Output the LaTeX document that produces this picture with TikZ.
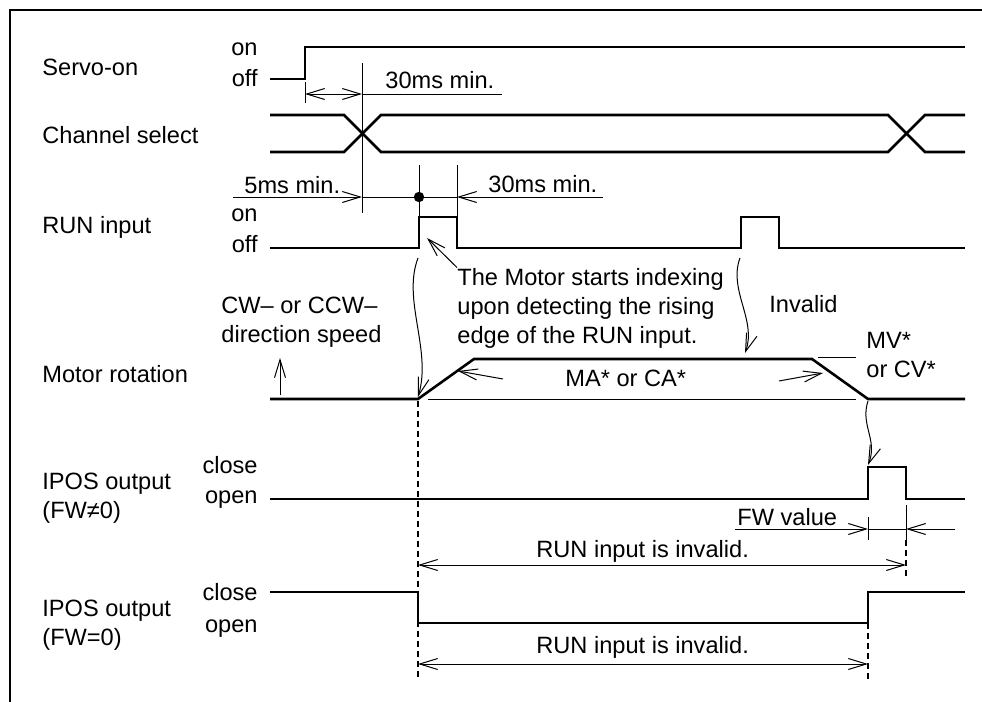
\documentclass[tikz,border=0pt]{standalone}
\usepackage{fontspec}
\setmainfont{Liberation Sans}
\usetikzlibrary{arrows.meta}
\begin{document}
\begin{tikzpicture}[x=0.5pt,y=-0.5pt,>={Straight Barb[length=9pt,width=5.5pt]},
  font=\fontsize{11.8}{14.5}\selectfont]
\tikzstyle{sig}=[line width=1.3pt]
\tikzstyle{dim}=[line width=0.5pt]
\tikzstyle{guide}=[line width=0.6pt,dash pattern=on 3pt off 2pt]
\tikzstyle{lbl}=[inner sep=0pt,anchor=base west,align=left]
\tikzstyle{lvl}=[inner sep=0pt,anchor=base east]

\useasboundingbox (0,0) rectangle (982,702);
\draw[line width=1.4pt] (10,702) -- (10,10) -- (982,10);

% Signal names and levels
\node[lbl] (servo) at (42,75) {Servo-on};
\node[lvl] (servoon) at (258,55) {on};
\node[lvl] (servooff) at (258,86) {off};
\node[lbl] (chsel) at (42,143) {Channel select};
\node[lbl] (run) at (42,233) {RUN input};
\node[lvl] (runon) at (258,221) {on};
\node[lvl] (runoff) at (258,252) {off};
\node[lbl] (motor) at (42,382) {Motor rotation};
\node[lbl] (ipos1) at (42,518) {IPOS output\\(FW≠0)};
\node[lvl] (close1) at (258,473) {close};
\node[lvl] (open1) at (258,503) {open};
\node[lbl] (ipos2) at (42,645) {IPOS output\\(FW=0)};
\node[lvl] (close2) at (258,600) {close};
\node[lvl] (open2) at (258,632) {open};

% Waveforms
\draw[sig] (270,79) -- (305,79) -- (305,47) -- (965,47);
\draw[sig] (270,115) -- (344,115) -- (381,152) -- (888,152) -- (925,115) -- (965,115);
\draw[sig] (270,152) -- (344,152) -- (381,115) -- (888,115) -- (925,152) -- (965,152);
\draw[sig] (270,248) -- (419,248) -- (419,217) -- (457,217) -- (457,248)
  -- (741,248) -- (741,217) -- (779,217) -- (779,248) -- (965,248);
\draw[sig] (270,399) -- (418,399) -- (474,359) -- (812,359) -- (868,399) -- (965,399);
\draw[sig] (270,499) -- (868,499) -- (868,467) -- (906,467) -- (906,499) -- (965,499);
\draw[sig] (270,592) -- (418,592) -- (418,623) -- (868,623) -- (868,592) -- (965,592);

% Servo-on to channel select
\draw[dim] (305,82) -- (305,103);
\draw[dim] (362,63) -- (362,213);
\draw[dim,<->] (305,94) -- (362,94);
\draw[dim] (362,94) -- (502,94);
\node[lbl] (t30a) at (385,88) {30ms min.};

% Channel select to RUN input
\draw[dim] (419,165) -- (419,217);
\draw[dim] (457,165) -- (457,217);
\draw[dim,->] (233,197) -- (362,197);
\draw[dim] (362,197) -- (457,197);
\draw[dim,->] (603,197) -- (457,197);
\fill (419,197) circle (2.6pt);
\node[lbl] (t5) at (244,193) {5ms min.};
\node[lbl] (t30b) at (488,192) {30ms min.};

% Rising edge notes
\node[lbl] (start) at (457,343) {The Motor starts indexing\\upon detecting the rising\\edge of the RUN input.};
\coordinate (edge) at (427,238);
\draw[dim,->] (start.north west) -- (edge);
\coordinate (runup) at (418,258);
\coordinate (motup) at (418,397);
\draw[dim,->] (runup) .. controls (402,300) and (432,350) .. (motup);
\node[lbl] (cw) at (221,342) {CW– or CCW–\\direction speed};
\draw[dim,->] (280,395) -- (280,358);
\node[lbl] (inv) at (769,312) {Invalid};
\coordinate (run2) at (740,258);
\coordinate (mot2) at (745,353);
\draw[dim,->] (run2) .. controls (728,290) and (757,320) .. (mot2);

% Acceleration and deceleration
\draw[dim] (428,399) -- (856,399);
\draw[dim] (818,357) -- (856,357);
\node[lbl] (ma) at (565,386) {MA* or CA*};
\draw[dim,->] (503,379) -- (458,371);
\draw[dim,->] (779,381) -- (823,373);
\node[lbl] (mv) at (866,377) {MV*\\or CV*};
\coordinate (motdn) at (868,401);
\coordinate (iposup) at (868,465);
\draw[dim,->] (motdn) .. controls (860,425) and (878,440) .. (iposup);

% FW value
\draw[dim] (868,517) -- (868,540);
\draw[dim] (906,505) -- (906,540);
\draw[dim,->] (735,529) -- (868,529);
\draw[dim] (868,529) -- (906,529);
\draw[dim,->] (955,529) -- (906,529);
\node[lbl] (fw) at (737,525) {FW value};

% Invalid ranges
\draw[guide] (418,401) -- (418,680);
\draw[guide] (906,540) -- (906,578);
\draw[guide] (868,623) -- (868,680);
\draw[dim,<->] (418,565) -- (906,565);
\node[lbl] (inv1) at (536,557) {RUN input is invalid.};
\draw[dim,<->] (418,664) -- (868,664);
\node[lbl] (inv2) at (536,653) {RUN input is invalid.};
\end{tikzpicture}
\end{document}
